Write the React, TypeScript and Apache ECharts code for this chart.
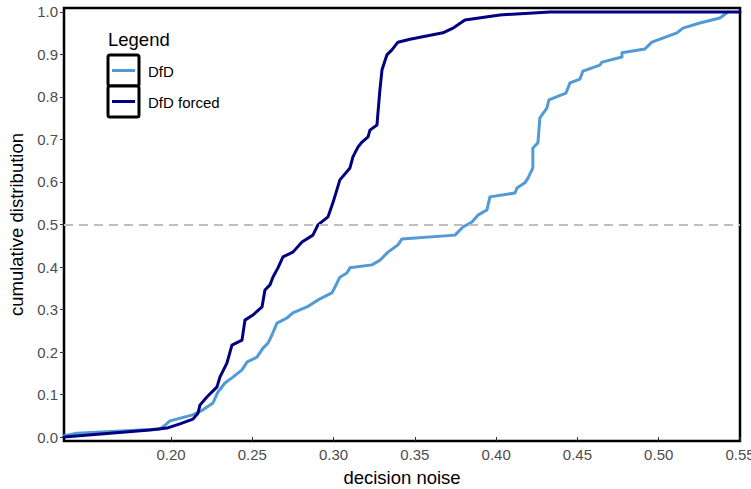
import React, { useEffect, useRef } from "react";
import * as echarts from "echarts";

// ECDF of decision noise
const dfdX = [0.1342, 0.1422, 0.1932, 0.1951, 0.1994, 0.2135, 0.2197, 0.2258, 0.2289, 0.2332, 0.2381, 0.2437, 0.2467, 0.2529, 0.2566, 0.2597, 0.2621, 0.2652, 0.2713, 0.275, 0.2836, 0.2916, 0.299, 0.3009, 0.3039, 0.3082, 0.3101, 0.3236, 0.3285, 0.3335, 0.3396, 0.3421, 0.3747, 0.3796, 0.3851, 0.3888, 0.3943, 0.3962, 0.4116, 0.4128, 0.4177, 0.4196, 0.4226, 0.4226, 0.4257, 0.4269, 0.4312, 0.4325, 0.4429, 0.4454, 0.4515, 0.4534, 0.4638, 0.4651, 0.4774, 0.4774, 0.4915, 0.4958, 0.5112, 0.5149, 0.5253, 0.5376, 0.5426];
const dfdY = [0.003, 0.009, 0.019, 0.024, 0.038, 0.052, 0.064, 0.08, 0.106, 0.127, 0.141, 0.158, 0.176, 0.188, 0.209, 0.221, 0.24, 0.268, 0.28, 0.292, 0.306, 0.325, 0.339, 0.353, 0.376, 0.386, 0.398, 0.405, 0.416, 0.435, 0.452, 0.466, 0.475, 0.494, 0.506, 0.522, 0.534, 0.565, 0.574, 0.586, 0.598, 0.609, 0.633, 0.68, 0.692, 0.751, 0.774, 0.793, 0.809, 0.833, 0.842, 0.861, 0.875, 0.882, 0.894, 0.904, 0.913, 0.929, 0.951, 0.962, 0.974, 0.986, 1.0];

const forcedX = [0.1342, 0.1871, 0.1975, 0.2055, 0.2135, 0.2166, 0.2178, 0.2221, 0.2283, 0.2301, 0.2344, 0.2375, 0.2437, 0.2455, 0.2504, 0.256, 0.2578, 0.2609, 0.2627, 0.2658, 0.2689, 0.275, 0.2806, 0.2873, 0.2904, 0.2966, 0.2996, 0.3039, 0.3101, 0.3119, 0.315, 0.3175, 0.3212, 0.3224, 0.3267, 0.3273, 0.3285, 0.3298, 0.3328, 0.3359, 0.3396, 0.347, 0.3673, 0.3734, 0.3808, 0.4023, 0.4331, 0.55];
const forcedY = [0.0, 0.0165, 0.021, 0.031, 0.042, 0.056, 0.075, 0.094, 0.118, 0.141, 0.174, 0.216, 0.228, 0.275, 0.287, 0.306, 0.346, 0.358, 0.376, 0.398, 0.424, 0.435, 0.459, 0.475, 0.499, 0.518, 0.551, 0.605, 0.633, 0.659, 0.682, 0.694, 0.706, 0.722, 0.734, 0.762, 0.816, 0.864, 0.899, 0.911, 0.929, 0.936, 0.951, 0.962, 0.981, 0.993, 1.0, 1.0];

const xTicks = [0.2, 0.25, 0.3, 0.35, 0.4, 0.45, 0.5, 0.55];
const yTicks = [0, 0.1, 0.2, 0.3, 0.4, 0.5, 0.6, 0.7, 0.8, 0.9, 1.0];
const seriesNames = ["DfD", "DfD forced"];
const seriesColors = ["#519AD5", "#000080"];
const refLevel = 0.5;

const FONT = "Liberation Sans, Arial, sans-serif";

export default function App() {
  const ref = useRef<HTMLDivElement>(null);
  useEffect(() => {
    if (!ref.current) return;
    const chart = echarts.init(ref.current, undefined, { renderer: "svg" });
    const zip = (xs: number[], ys: number[]) => xs.map((x, i) => [x, ys[i]]);
    const legendGraphics: any[] = [
      {
        type: "text",
        left: 108,
        top: 30,
        style: { text: "Legend", fontSize: 18.5, fontFamily: FONT, fill: "#000" },
      },
    ];
    seriesNames.forEach((name, i) => {
      const y0 = 55 + i * 31;
      legendGraphics.push({
        type: "rect",
        shape: { x: 108, y: y0, width: 31, height: 31, r: 2 },
        style: { fill: "#fff", stroke: "#000", lineWidth: 3 },
        z: 10,
      });
      legendGraphics.push({
        type: "line",
        shape: { x1: 112, y1: y0 + 15.5, x2: 135, y2: y0 + 15.5 },
        style: { stroke: seriesColors[i], lineWidth: 3 },
        z: 11,
      });
      legendGraphics.push({
        type: "text",
        x: 148,
        y: y0 + 16,
        style: {
          text: name,
          fontSize: 15,
          fontFamily: FONT,
          fill: "#000",
          verticalAlign: "middle",
        },
        z: 11,
      });
    });

    chart.setOption({
      animation: false,
      grid: {
        left: 64,
        right: 11,
        top: 8,
        bottom: 48,
        containLabel: false,
        outerBoundsMode: "none",
        show: true,
        borderColor: "#000",
        borderWidth: 2.5,
        backgroundColor: "#fff",
      },
      xAxis: {
        type: "value",
        min: 0.1342,
        max: 0.55,
        name: "decision noise",
        nameLocation: "middle",
        nameGap: 27,
        nameTextStyle: { fontSize: 18.5, fontFamily: FONT, color: "#000" },
        splitLine: { show: false },
        axisLine: { show: false },
        axisTick: {
          show: true,
          length: 4,
          lineStyle: { color: "#333", width: 1 },
          customValues: xTicks,
        },
        axisLabel: {
          customValues: xTicks,
          formatter: (v: number) => v.toFixed(2),
          fontSize: 15,
          fontFamily: FONT,
          color: "#4D4D4D",
          margin: 6,
          hideOverlap: false,
        },
      },
      yAxis: {
        type: "value",
        min: -0.0094,
        max: 1.0094,
        name: "cumulative distribution",
        nameLocation: "middle",
        nameGap: 35,
        nameTextStyle: { fontSize: 18.5, fontFamily: FONT, color: "#000" },
        splitLine: { show: false },
        axisLine: { show: false },
        axisTick: {
          show: true,
          length: 4,
          lineStyle: { color: "#333", width: 1 },
          customValues: yTicks,
        },
        axisLabel: {
          customValues: yTicks,
          formatter: (v: number) => v.toFixed(1),
          fontSize: 15,
          fontFamily: FONT,
          color: "#4D4D4D",
          margin: 6,
        },
      },
      series: [
        {
          name: seriesNames[0],
          type: "line",
          data: zip(dfdX, dfdY),
          showSymbol: false,
          symbol: "none",
          lineStyle: { color: seriesColors[0], width: 3, join: "round", cap: "round" },
          markLine: {
            silent: true,
            symbol: ["none", "none"],
            label: { show: false },
            lineStyle: { color: "#BEBEBE", type: [9, 6], width: 1.8 },
            data: [{ yAxis: refLevel }],
          },
        },
        {
          name: seriesNames[1],
          type: "line",
          data: zip(forcedX, forcedY),
          showSymbol: false,
          symbol: "none",
          lineStyle: { color: seriesColors[1], width: 3, join: "round", cap: "round" },
        },
      ],
      graphic: legendGraphics,
    });
    return () => chart.dispose();
  }, []);
  return <div ref={ref} style={{ width: 751, height: 489, position: "absolute", left: 0, top: 0 }} />;
}
